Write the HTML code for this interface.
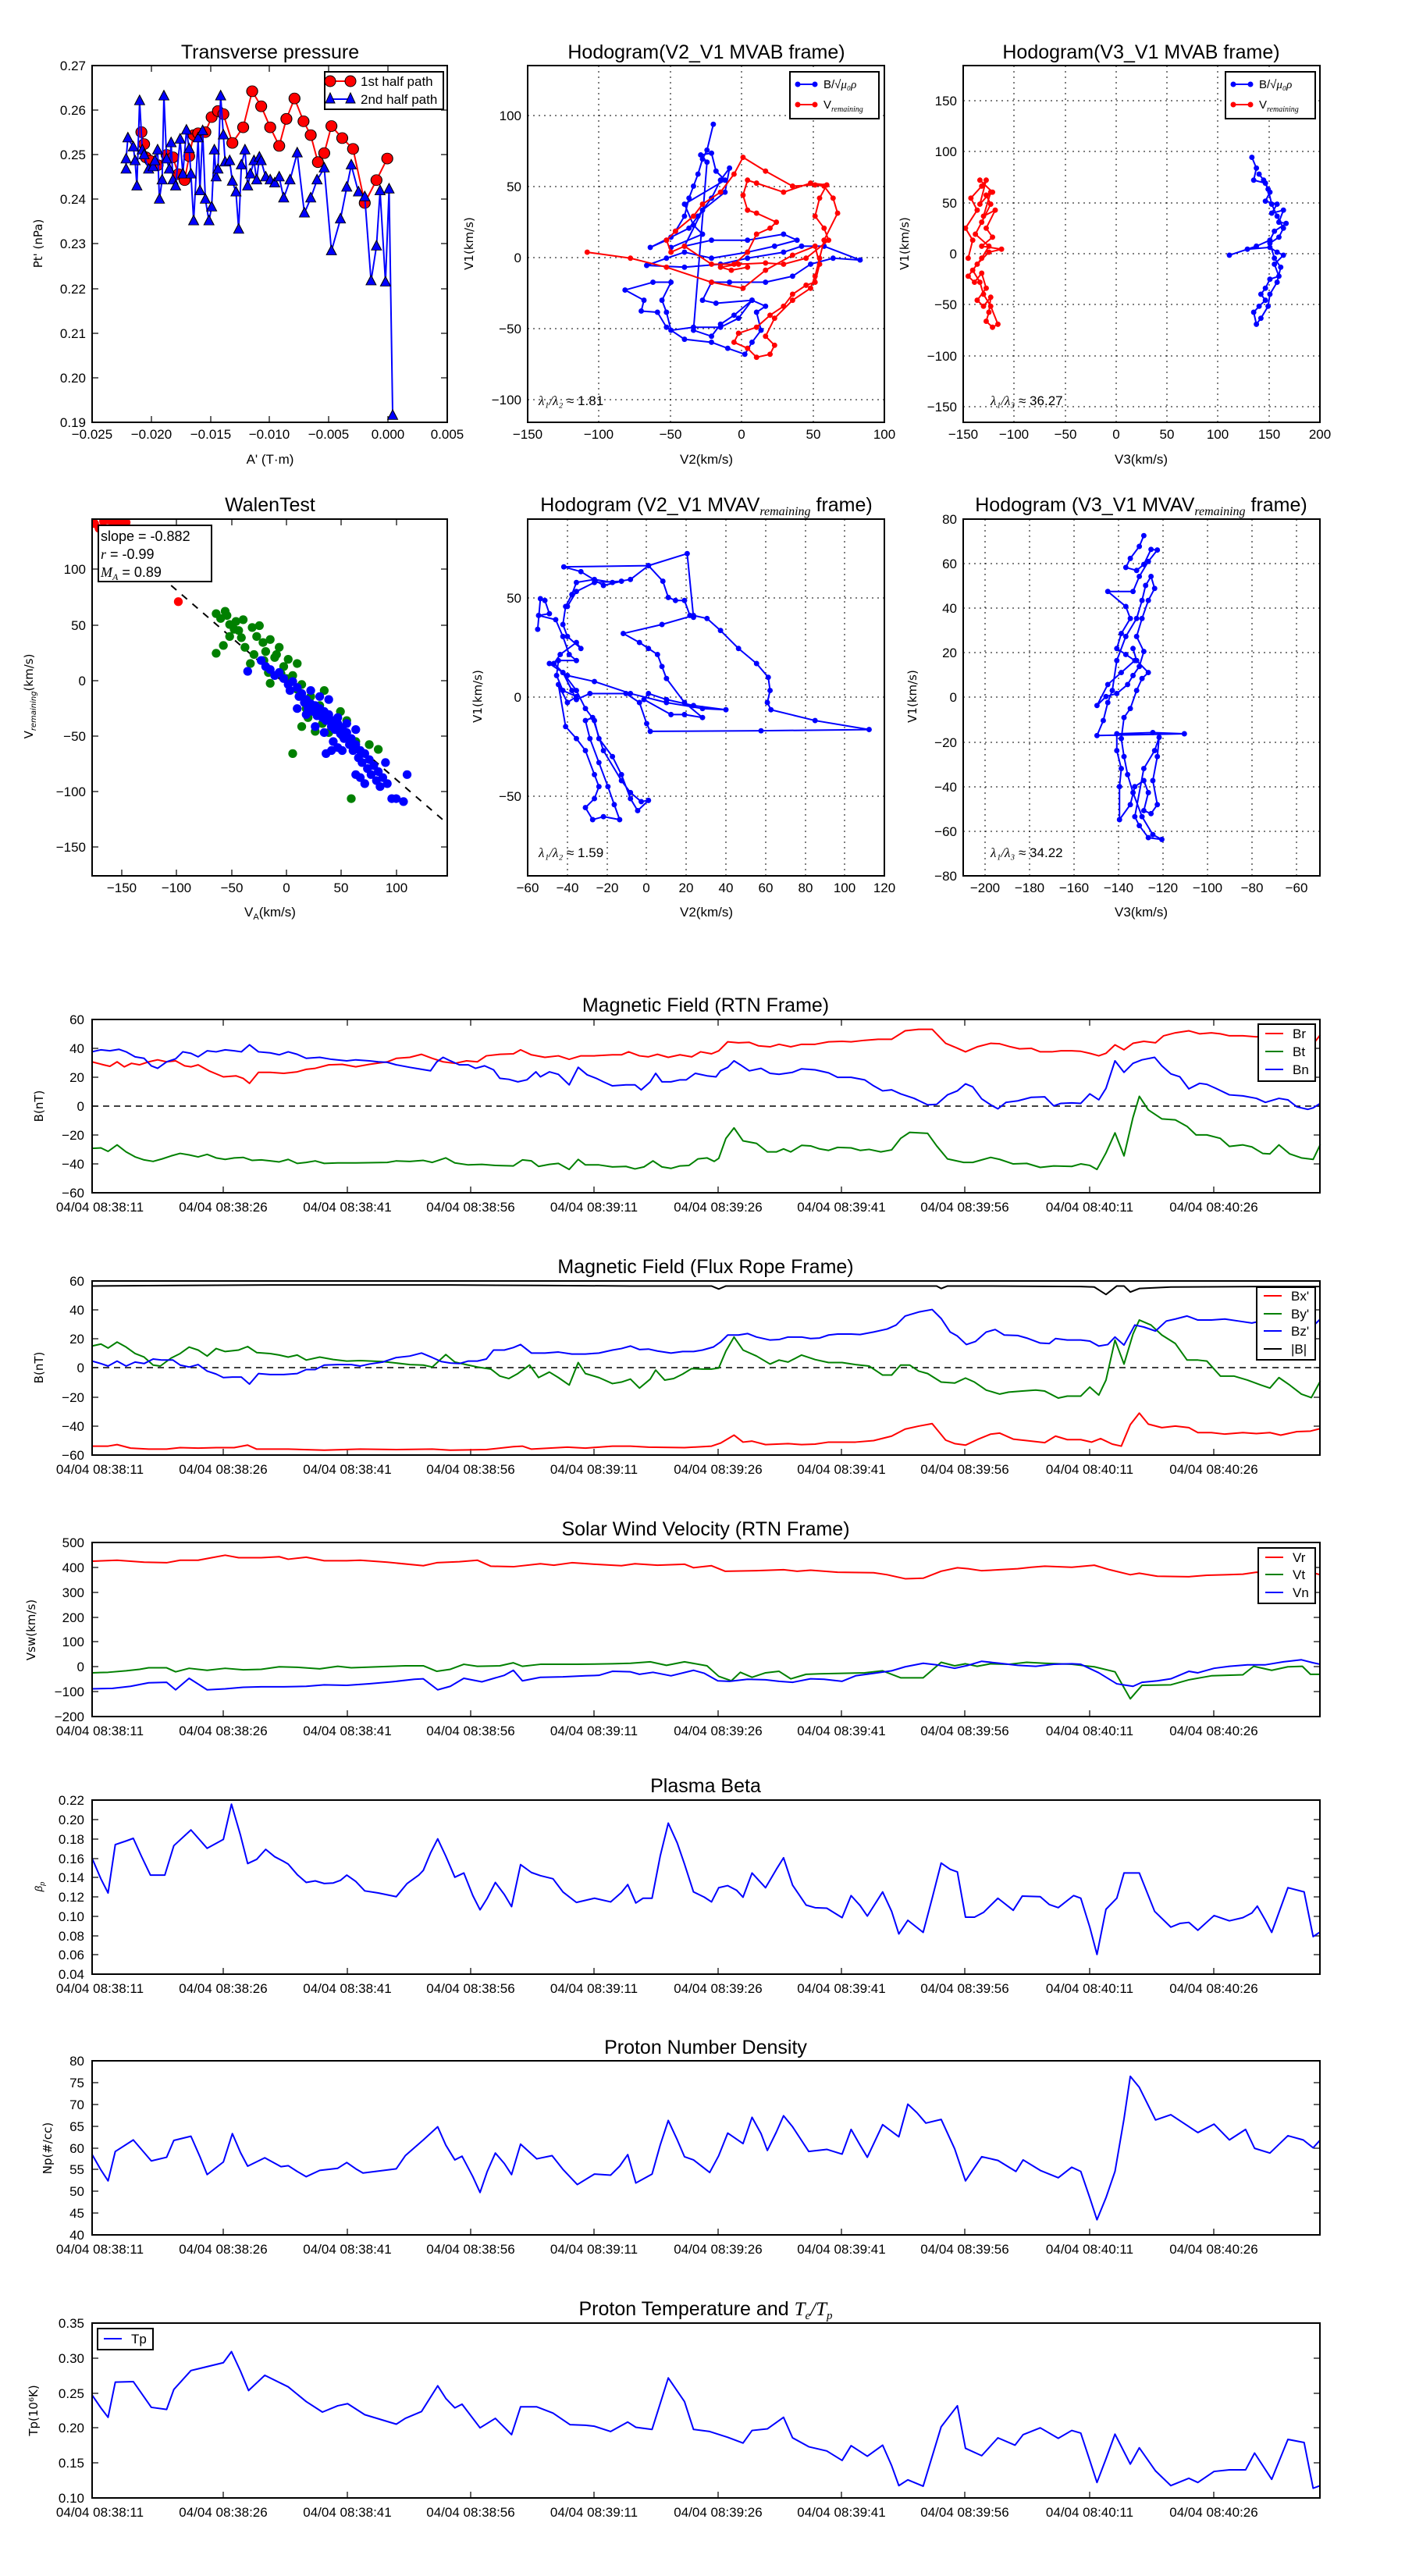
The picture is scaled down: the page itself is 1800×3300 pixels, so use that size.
<!DOCTYPE html>
<html><head><meta charset="utf-8"><style>
body{margin:0;background:#fff}
svg{display:block}
text{font-family:"Liberation Sans Narrow","Liberation Sans",sans-serif;fill:#000}
.t{font-size:17px}
.ti{font-size:25px;text-anchor:middle}
.yl{font-family:"DejaVu Sans","Liberation Sans",sans-serif;font-size:15px;text-anchor:middle}
.ax{fill:none;stroke:#000;stroke-width:2}
.tk{stroke:#000;stroke-width:1.2}
.gr{stroke:#000;stroke-width:1;stroke-dasharray:2,5}
.ln{fill:none;stroke-width:2;vector-effect:non-scaling-stroke;stroke-linejoin:round}
</style></head><body>
<svg width="1800" height="3300" viewBox="0 0 1800 3300" xmlns="http://www.w3.org/2000/svg">
<defs>
<marker id="rc" markerUnits="userSpaceOnUse" markerWidth="40" markerHeight="40" refX="0" refY="0" overflow="visible"><ellipse rx="6.1" ry="9.1" fill="#f00" stroke="#000" stroke-width="1"/></marker>
<marker id="bt" markerUnits="userSpaceOnUse" markerWidth="40" markerHeight="40" refX="0" refY="0" overflow="visible"><path d="M0,-9.5 L-5.6,6.5 L5.6,6.5Z" fill="#00f" stroke="#000" stroke-width="1"/></marker>
<marker id="bd" markerUnits="userSpaceOnUse" markerWidth="40" markerHeight="40" refX="0" refY="0" overflow="visible"><ellipse rx="3" ry="4.5" fill="#00f"/></marker>
<marker id="rd" markerUnits="userSpaceOnUse" markerWidth="40" markerHeight="40" refX="0" refY="0" overflow="visible"><ellipse rx="3" ry="4.5" fill="#f00"/></marker>
<marker id="gs" markerUnits="userSpaceOnUse" markerWidth="40" markerHeight="40" refX="0" refY="0" overflow="visible"><ellipse rx="4.9" ry="7.3" fill="#008000"/></marker>
<marker id="bs" markerUnits="userSpaceOnUse" markerWidth="40" markerHeight="40" refX="0" refY="0" overflow="visible"><ellipse rx="4.9" ry="7.3" fill="#00f"/></marker>
<marker id="rs" markerUnits="userSpaceOnUse" markerWidth="40" markerHeight="40" refX="0" refY="0" overflow="visible"><ellipse rx="4.9" ry="7.3" fill="#f00"/></marker>
<clipPath id="cA"><rect x="118" y="84" width="455" height="457"/></clipPath>
<clipPath id="cD"><rect x="118" y="665" width="455" height="457"/></clipPath>
</defs>
<rect width="1800" height="3300" fill="#fff"/>

<!-- ========== TOP ROW ========== -->
<!-- Plot A -->
<text class="ti" x="346" y="75">Transverse pressure</text>
<g class="tk">
<line x1="118" y1="541" x2="118" y2="533"/><line x1="194" y1="541" x2="194" y2="533"/><line x1="270" y1="541" x2="270" y2="533"/><line x1="345" y1="541" x2="345" y2="533"/><line x1="421" y1="541" x2="421" y2="533"/><line x1="497" y1="541" x2="497" y2="533"/>
<line x1="194" y1="84" x2="194" y2="92"/><line x1="270" y1="84" x2="270" y2="92"/><line x1="345" y1="84" x2="345" y2="92"/><line x1="421" y1="84" x2="421" y2="92"/><line x1="497" y1="84" x2="497" y2="92"/>
<line x1="118" y1="141" x2="126" y2="141"/><line x1="118" y1="198" x2="126" y2="198"/><line x1="118" y1="255" x2="126" y2="255"/><line x1="118" y1="312" x2="126" y2="312"/><line x1="118" y1="370" x2="126" y2="370"/><line x1="118" y1="427" x2="126" y2="427"/><line x1="118" y1="484" x2="126" y2="484"/>
<line x1="573" y1="141" x2="565" y2="141"/><line x1="573" y1="198" x2="565" y2="198"/><line x1="573" y1="255" x2="565" y2="255"/><line x1="573" y1="312" x2="565" y2="312"/><line x1="573" y1="370" x2="565" y2="370"/><line x1="573" y1="427" x2="565" y2="427"/><line x1="573" y1="484" x2="565" y2="484"/>
</g>
<g class="t" text-anchor="middle">
<text x="118" y="562">−0.025</text><text x="194" y="562">−0.020</text><text x="270" y="562">−0.015</text><text x="345" y="562">−0.010</text><text x="421" y="562">−0.005</text><text x="497" y="562">0.000</text><text x="573" y="562">0.005</text>
</g>
<g class="t" text-anchor="end">
<text x="110" y="90">0.27</text><text x="110" y="147">0.26</text><text x="110" y="204">0.25</text><text x="110" y="261">0.24</text><text x="110" y="318">0.23</text><text x="110" y="376">0.22</text><text x="110" y="433">0.21</text><text x="110" y="490">0.20</text><text x="110" y="547">0.19</text>
</g>
<text class="t" x="346" y="594" text-anchor="middle">A' (T·m)</text>
<text class="yl" transform="translate(54,312) rotate(-90)">Pt' (nPa)</text>
<g clip-path="url(#cA)"><g transform="scale(1.15385,0.76923)">
<polyline class="ln" stroke="#f00" marker-start="url(#rc)" marker-mid="url(#rc)" marker-end="url(#rc)" points="157,220 160,240 162,262 167,268 175,275 185,258 192,262 198,290 205,300 210,260 215,225 220,222 228,220 235,195 242,185 248,190 258,238 270,212 280,152 290,177 300,212 310,243 318,198 327,164 337,202 345,225 353,270 360,255 368,210 380,230 392,248 405,338 418,300 430,264"/>
<polyline class="ln" stroke="#00f" marker-start="url(#bt)" marker-mid="url(#bt)" marker-end="url(#bt)" points="140,282 140,265 142,230 148,245 150,268 152,310 155,168 158,250 160,258 165,282 170,278 172,268 175,250 177,332 180,300 182,160 185,265 188,282 190,238 192,300 195,310 200,232 203,290 207,217 210,248 212,290 215,368 220,230 222,318 225,218 228,332 232,368 235,345 238,250 240,295 242,282 245,160 248,225 250,270 255,268 258,302 262,320 265,382 268,275 272,250 275,310 278,290 282,268 285,300 288,262 290,268 295,295 300,300 305,305 310,295 315,330 322,300 330,255 338,355 345,330 352,300 360,280 368,418 378,365 385,312 390,275 398,320 405,328 412,468 418,410 422,318 428,470 432,315 436,692"/>
</g></g>
<rect class="ax" x="118" y="84" width="455" height="457"/>
<rect x="416" y="92" width="152" height="48" fill="#fff" stroke="#000" stroke-width="2"/>
<line x1="420" y1="104" x2="452" y2="104" stroke="#f00" stroke-width="2"/><circle cx="423" cy="104" r="7" fill="#f00" stroke="#000"/><circle cx="449" cy="104" r="7" fill="#f00" stroke="#000"/>
<line x1="420" y1="127" x2="452" y2="127" stroke="#00f" stroke-width="2"/><path d="M423,119 L417,132 L429,132Z M449,119 L443,132 L455,132Z" fill="#00f" stroke="#000"/>
<text class="t" x="462" y="110" font-size="16">1st half path</text><text class="t" x="462" y="133" font-size="16">2nd half path</text>

<!-- Plot B -->
<text class="ti" x="905" y="75">Hodogram(V2_V1 MVAB frame)</text>
<g class="gr">
<line x1="767" y1="84" x2="767" y2="541"/><line x1="859" y1="84" x2="859" y2="541"/><line x1="950" y1="84" x2="950" y2="541"/><line x1="1042" y1="84" x2="1042" y2="541"/>
<line x1="676" y1="148" x2="1133" y2="148"/><line x1="676" y1="239" x2="1133" y2="239"/><line x1="676" y1="330" x2="1133" y2="330"/><line x1="676" y1="421" x2="1133" y2="421"/><line x1="676" y1="512" x2="1133" y2="512"/>
</g>
<g class="t" text-anchor="middle">
<text x="676" y="562">−150</text><text x="767" y="562">−100</text><text x="859" y="562">−50</text><text x="950" y="562">0</text><text x="1042" y="562">50</text><text x="1133" y="562">100</text>
</g>
<g class="t" text-anchor="end">
<text x="668" y="154">100</text><text x="668" y="245">50</text><text x="668" y="336">0</text><text x="668" y="427">−50</text><text x="668" y="518">−100</text>
</g>
<text class="t" x="905" y="594" text-anchor="middle">V2(km/s)</text>
<text class="yl" transform="translate(606,312) rotate(-90)">V1(km/s)</text>
<g transform="scale(1.15385,0.76923)">
<polyline class="ln" stroke="#00f" stroke-width="1.6" marker-start="url(#bd)" marker-mid="url(#bd)" marker-end="url(#bd)" points="792,207 785,250 780,265 775,290 770,310 765,330 760,360 750,385 740,400 722,412 745,395 765,380 775,360 790,330 800,300 810,280 805,320 780,350 760,410 790,400 830,400 870,390 885,400 860,410 830,420 790,430 760,420 740,430 718,442 760,445 800,440 830,430 870,420 890,410 915,410 955,433 925,430 900,440 880,460 850,470 810,470 790,470 780,500 795,505 835,500 820,530 800,545 770,545 745,550 740,520 735,500 745,470 725,470 694,483 715,500 712,518 730,520 740,545 760,565 790,570 808,580 827,590 835,570 845,550 840,520 850,510 835,500 815,525 800,540 790,560 770,550 785,270 778,258 790,255 795,285 805,300 760,340 770,375 780,390 745,412"/>
<polyline class="ln" stroke="#f00" stroke-width="1.6" marker-start="url(#rd)" marker-mid="url(#rd)" marker-end="url(#rd)" points="652,420 700,430 740,445 790,470 825,480 850,450 880,425 905,410 910,440 905,470 895,475 880,490 870,510 855,525 840,545 820,555 815,570 830,580 840,595 855,590 860,575 850,560 860,530 880,500 900,480 905,460 910,430 915,400 930,355 925,330 915,310 905,308 880,310 850,285 825,262 815,290 800,320 780,340 770,360 750,385 740,400 745,420 760,410 790,440 815,440 830,420 840,390 855,380 862,370 840,355 830,350 825,325 830,300 840,305 870,320 900,305 918,308 910,330 905,360 915,380 920,400 895,430 870,440 850,438 820,440 800,445 812,450 830,445"/>
</g>
<rect class="ax" x="676" y="84" width="457" height="457"/>
<rect x="1012" y="92" width="114" height="60" fill="#fff" stroke="#000" stroke-width="2"/>
<line x1="1020" y1="108" x2="1046" y2="108" stroke="#00f" stroke-width="2"/><circle cx="1022" cy="108" r="3.5" fill="#00f"/><circle cx="1044" cy="108" r="3.5" fill="#00f"/>
<line x1="1020" y1="134" x2="1046" y2="134" stroke="#f00" stroke-width="2"/><circle cx="1022" cy="134" r="3.5" fill="#f00"/><circle cx="1044" cy="134" r="3.5" fill="#f00"/>
<text x="1055" y="113" font-size="15">B/√<tspan font-style="italic" font-family="Liberation Serif">μ₀ρ</tspan></text>
<text x="1055" y="139" font-size="15">V<tspan font-size="10" font-style="italic" font-family="Liberation Serif" dy="4">remaining</tspan></text>
<text x="690" y="519" font-size="17"><tspan font-style="italic" font-family="Liberation Serif">λ₁/λ₂</tspan> ≈ 1.81</text>

<!-- Plot C -->
<text class="ti" x="1462" y="75">Hodogram(V3_V1 MVAB frame)</text>
<g class="gr">
<line x1="1299" y1="84" x2="1299" y2="541"/><line x1="1365" y1="84" x2="1365" y2="541"/><line x1="1430" y1="84" x2="1430" y2="541"/><line x1="1495" y1="84" x2="1495" y2="541"/><line x1="1560" y1="84" x2="1560" y2="541"/><line x1="1626" y1="84" x2="1626" y2="541"/>
<line x1="1234" y1="129" x2="1691" y2="129"/><line x1="1234" y1="194" x2="1691" y2="194"/><line x1="1234" y1="260" x2="1691" y2="260"/><line x1="1234" y1="325" x2="1691" y2="325"/><line x1="1234" y1="390" x2="1691" y2="390"/><line x1="1234" y1="456" x2="1691" y2="456"/><line x1="1234" y1="521" x2="1691" y2="521"/>
</g>
<g class="t" text-anchor="middle">
<text x="1234" y="562">−150</text><text x="1299" y="562">−100</text><text x="1365" y="562">−50</text><text x="1430" y="562">0</text><text x="1495" y="562">50</text><text x="1560" y="562">100</text><text x="1626" y="562">150</text><text x="1691" y="562">200</text>
</g>
<g class="t" text-anchor="end">
<text x="1226" y="135">150</text><text x="1226" y="200">100</text><text x="1226" y="266">50</text><text x="1226" y="331">0</text><text x="1226" y="396">−50</text><text x="1226" y="462">−100</text><text x="1226" y="527">−150</text>
</g>
<text class="t" x="1462" y="594" text-anchor="middle">V3(km/s)</text>
<text class="yl" transform="translate(1164,312) rotate(-90)">V1(km/s)</text>
<g transform="scale(1.15385,0.76923)">
<polyline class="ln" stroke="#f00" stroke-width="1.6" marker-start="url(#rd)" marker-mid="url(#rd)" marker-end="url(#rd)" points="1075,430 1080,400 1072,380 1085,350 1078,330 1090,310 1095,300 1088,340 1100,320 1092,360 1105,350 1095,380 1102,395 1090,410 1112,415 1098,420 1085,440 1075,460 1082,470 1090,455 1095,480 1085,500 1092,510 1100,495 1098,520 1095,535 1102,545 1108,540 1100,510 1092,490 1088,470 1080,450 1090,430 1098,410 1083,390 1090,370 1100,340 1095,325 1102,320 1088,300"/>
<polyline class="ln" stroke="#00f" stroke-width="1.6" marker-start="url(#bd)" marker-mid="url(#bd)" marker-end="url(#bd)" points="1390,262 1395,280 1392,300 1405,305 1410,320 1405,335 1418,340 1412,355 1425,350 1420,370 1428,372 1415,385 1410,400 1395,410 1365,425 1385,415 1410,412 1418,420 1425,425 1415,440 1420,460 1410,465 1405,480 1400,490 1405,500 1398,510 1392,520 1395,540 1400,530 1408,510 1410,490 1418,470 1422,445 1415,430 1410,405 1420,395 1425,380 1418,360 1412,340 1408,315 1403,300 1398,290"/>
</g>
<rect class="ax" x="1234" y="84" width="457" height="457"/>
<rect x="1570" y="92" width="115" height="60" fill="#fff" stroke="#000" stroke-width="2"/>
<line x1="1578" y1="108" x2="1604" y2="108" stroke="#00f" stroke-width="2"/><circle cx="1580" cy="108" r="3.5" fill="#00f"/><circle cx="1602" cy="108" r="3.5" fill="#00f"/>
<line x1="1578" y1="134" x2="1604" y2="134" stroke="#f00" stroke-width="2"/><circle cx="1580" cy="134" r="3.5" fill="#f00"/><circle cx="1602" cy="134" r="3.5" fill="#f00"/>
<text x="1613" y="113" font-size="15">B/√<tspan font-style="italic" font-family="Liberation Serif">μ₀ρ</tspan></text>
<text x="1613" y="139" font-size="15">V<tspan font-size="10" font-style="italic" font-family="Liberation Serif" dy="4">remaining</tspan></text>
<text x="1269" y="519" font-size="17"><tspan font-style="italic" font-family="Liberation Serif">λ₁/λ₃</tspan> ≈ 36.27</text>

<!-- ========== ROW 2 ========== -->
<!-- Walen -->
<text class="ti" x="346" y="655">WalenTest</text>
<g class="tk">
<line x1="156" y1="1122" x2="156" y2="1114"/><line x1="226" y1="1122" x2="226" y2="1114"/><line x1="297" y1="1122" x2="297" y2="1114"/><line x1="367" y1="1122" x2="367" y2="1114"/><line x1="437" y1="1122" x2="437" y2="1114"/><line x1="508" y1="1122" x2="508" y2="1114"/>
<line x1="156" y1="665" x2="156" y2="673"/><line x1="226" y1="665" x2="226" y2="673"/><line x1="297" y1="665" x2="297" y2="673"/><line x1="367" y1="665" x2="367" y2="673"/><line x1="437" y1="665" x2="437" y2="673"/><line x1="508" y1="665" x2="508" y2="673"/>
<line x1="118" y1="729" x2="126" y2="729"/><line x1="118" y1="801" x2="126" y2="801"/><line x1="118" y1="872" x2="126" y2="872"/><line x1="118" y1="943" x2="126" y2="943"/><line x1="118" y1="1014" x2="126" y2="1014"/><line x1="118" y1="1085" x2="126" y2="1085"/>
<line x1="573" y1="729" x2="565" y2="729"/><line x1="573" y1="801" x2="565" y2="801"/><line x1="573" y1="872" x2="565" y2="872"/><line x1="573" y1="943" x2="565" y2="943"/><line x1="573" y1="1014" x2="565" y2="1014"/><line x1="573" y1="1085" x2="565" y2="1085"/>
</g>
<g class="t" text-anchor="middle">
<text x="156" y="1143">−150</text><text x="226" y="1143">−100</text><text x="297" y="1143">−50</text><text x="367" y="1143">0</text><text x="437" y="1143">50</text><text x="508" y="1143">100</text>
</g>
<g class="t" text-anchor="end">
<text x="110" y="735">100</text><text x="110" y="807">50</text><text x="110" y="878">0</text><text x="110" y="949">−50</text><text x="110" y="1020">−100</text><text x="110" y="1091">−150</text>
</g>
<text class="t" x="346" y="1174" text-anchor="middle">V<tspan font-size="11" dy="4">A</tspan><tspan dy="-4">(km/s)</tspan></text>
<text class="yl" transform="translate(42,892) rotate(-90)">V<tspan font-size="10" font-style="italic" dy="4">remaining</tspan><tspan dy="-4">(km/s)</tspan></text>
<g clip-path="url(#cD)"><g transform="scale(1.15385,0.76923)">
<line x1="190" y1="975" x2="497" y2="1372" stroke="#000" stroke-width="2" stroke-dasharray="9,9" vector-effect="non-scaling-stroke"/>
<polyline fill="none" stroke="none" marker-start="url(#gs)" marker-mid="url(#gs)" marker-end="url(#gs)" points="240,1022 245,1030 250,1018 255,1040 262,1035 265,1050 270,1032 255,1060 248,1075 240,1088 272,1078 280,1045 285,1060 288,1042 292,1070 295,1085 300,1065 278,1105 305,1095 310,1078 315,1110 300,1138 320,1098 325,1125 330,1148 330,1105 335,1140 340,1180 345,1160 350,1218 335,1210 355,1175 360,1150 365,1220 372,1200 378,1185 385,1200 390,1330 380,1225 395,1235 400,1250 410,1240 420,1248 325,1255 307,1090 293,1100 282,1090 268,1062 260,1048 252,1025 318,1130 342,1195 358,1205 312,1122 298,1120"/>
<polyline fill="none" stroke="none" marker-start="url(#bs)" marker-mid="url(#bs)" marker-end="url(#bs)" points="275,1118 290,1100 295,1110 300,1115 305,1125 310,1120 315,1130 320,1140 322,1150 325,1135 330,1145 332,1160 335,1155 338,1170 340,1165 342,1180 345,1172 348,1185 350,1175 352,1192 355,1180 358,1195 360,1185 362,1200 365,1190 368,1210 370,1200 372,1215 375,1205 378,1222 380,1212 382,1230 385,1220 388,1240 390,1230 392,1250 395,1240 398,1262 400,1250 402,1270 405,1255 408,1280 410,1265 412,1290 415,1275 418,1300 420,1285 422,1310 425,1295 428,1270 430,1305 435,1330 440,1330 448,1335 452,1290 400,1295 405,1305 395,1290 380,1250 370,1235 360,1220 350,1210 340,1190 330,1180 345,1150 355,1160 365,1165 375,1195 385,1205 395,1215 362,1255 368,1250 375,1245"/>
<polyline fill="none" stroke="none" marker-start="url(#rs)" marker-mid="url(#rs)" marker-end="url(#rs)" points="105,872 110,880 115,868 120,866 125,870 130,868 135,872 140,870 198,1002"/>
</g></g>
<rect class="ax" x="118" y="665" width="455" height="457"/>
<rect x="126" y="673" width="145" height="72" fill="#fff" stroke="#000" stroke-width="2"/>
<text x="129" y="693" font-size="18" font-family="DejaVu Sans,sans-serif">slope = -0.882</text>
<text x="129" y="716" font-size="18" font-family="DejaVu Sans,sans-serif"><tspan font-style="italic" font-family="Liberation Serif">r</tspan> = -0.99</text>
<text x="129" y="739" font-size="18" font-family="DejaVu Sans,sans-serif"><tspan font-style="italic" font-family="Liberation Serif">M<tspan font-size="12" dy="4">A</tspan></tspan><tspan dy="-4"> = 0.89</tspan></text>

<!-- Plot E -->
<text class="ti" x="905" y="655">Hodogram (V2_V1 MVAV<tspan font-size="16" font-style="italic" font-family="Liberation Serif" dy="5">remaining</tspan><tspan dy="-5"> frame)</tspan></text>
<g class="gr">
<line x1="727" y1="665" x2="727" y2="1122"/><line x1="778" y1="665" x2="778" y2="1122"/><line x1="828" y1="665" x2="828" y2="1122"/><line x1="879" y1="665" x2="879" y2="1122"/><line x1="930" y1="665" x2="930" y2="1122"/><line x1="981" y1="665" x2="981" y2="1122"/><line x1="1032" y1="665" x2="1032" y2="1122"/><line x1="1082" y1="665" x2="1082" y2="1122"/>
<line x1="676" y1="766" x2="1133" y2="766"/><line x1="676" y1="893" x2="1133" y2="893"/><line x1="676" y1="1020" x2="1133" y2="1020"/>
</g>
<g class="t" text-anchor="middle">
<text x="676" y="1143">−60</text><text x="727" y="1143">−40</text><text x="778" y="1143">−20</text><text x="828" y="1143">0</text><text x="879" y="1143">20</text><text x="930" y="1143">40</text><text x="981" y="1143">60</text><text x="1032" y="1143">80</text><text x="1082" y="1143">100</text><text x="1133" y="1143">120</text>
</g>
<g class="t" text-anchor="end">
<text x="668" y="772">50</text><text x="668" y="899">0</text><text x="668" y="1026">−50</text>
</g>
<text class="t" x="905" y="1174" text-anchor="middle">V2(km/s)</text>
<text class="yl" transform="translate(617,892) rotate(-90)">V1(km/s)</text>
<g transform="scale(1.15385,0.76923)">
<polyline class="ln" stroke="#00f" stroke-width="1.6" marker-start="url(#bd)" marker-mid="url(#bd)" marker-end="url(#bd)" points="597,1048 600,997 605,1000 610,1022 598,1025 617,1032 625,1060 632,1090 640,1100 620,1100 618,1125 625,1150 640,1160 630,1170 620,1140 628,1210 640,1230 650,1250 660,1290 665,1310 660,1330 650,1345 658,1365 670,1360 688,1365 682,1340 675,1310 665,1270 655,1230 650,1200 658,1195 670,1250 690,1300 700,1320 712,1335 720,1333 708,1350 700,1330 690,1290 680,1260 665,1230 660,1200 650,1180 640,1150 625,1120 610,1105 630,1125 660,1135 700,1155 740,1170 780,1180 806,1182 770,1175 740,1165 720,1155 715,1165 745,1190 760,1190 780,1195 760,1170 740,1130 735,1110 730,1090 720,1080 710,1070 692,1055 735,1040 770,1025 785,1030 800,1050 820,1080 840,1105 853,1128 855,1150 852,1170 856,1182 905,1200 965,1215 845,1217 722,1218 718,1205 710,1170 695,1155 655,1155 640,1165 635,1150 625,1120 615,1105 622,1090 640,1070 645,1080 630,1060 625,1040 628,1010 635,990 640,970 660,965 680,970 700,965 720,942 736,968 742,995 750,1000 760,1000 766,1025 770,1028 763,922 720,942 626,944 645,952 670,975 690,968 660,970 640,985 630,1010"/>
</g>
<rect class="ax" x="676" y="665" width="457" height="457"/>
<text x="690" y="1098" font-size="17"><tspan font-style="italic" font-family="Liberation Serif">λ₁/λ₂</tspan> ≈ 1.59</text>

<!-- Plot F -->
<text class="ti" x="1462" y="655">Hodogram (V3_V1 MVAV<tspan font-size="16" font-style="italic" font-family="Liberation Serif" dy="5">remaining</tspan><tspan dy="-5"> frame)</tspan></text>
<g class="gr">
<line x1="1262" y1="665" x2="1262" y2="1122"/><line x1="1319" y1="665" x2="1319" y2="1122"/><line x1="1376" y1="665" x2="1376" y2="1122"/><line x1="1433" y1="665" x2="1433" y2="1122"/><line x1="1490" y1="665" x2="1490" y2="1122"/><line x1="1547" y1="665" x2="1547" y2="1122"/><line x1="1604" y1="665" x2="1604" y2="1122"/><line x1="1661" y1="665" x2="1661" y2="1122"/>
<line x1="1234" y1="722" x2="1691" y2="722"/><line x1="1234" y1="779" x2="1691" y2="779"/><line x1="1234" y1="836" x2="1691" y2="836"/><line x1="1234" y1="893" x2="1691" y2="893"/><line x1="1234" y1="951" x2="1691" y2="951"/><line x1="1234" y1="1008" x2="1691" y2="1008"/><line x1="1234" y1="1065" x2="1691" y2="1065"/>
</g>
<g class="t" text-anchor="middle">
<text x="1262" y="1143">−200</text><text x="1319" y="1143">−180</text><text x="1376" y="1143">−160</text><text x="1433" y="1143">−140</text><text x="1490" y="1143">−120</text><text x="1547" y="1143">−100</text><text x="1604" y="1143">−80</text><text x="1661" y="1143">−60</text>
</g>
<g class="t" text-anchor="end">
<text x="1226" y="671">80</text><text x="1226" y="728">60</text><text x="1226" y="785">40</text><text x="1226" y="842">20</text><text x="1226" y="899">0</text><text x="1226" y="957">−20</text><text x="1226" y="1014">−40</text><text x="1226" y="1071">−60</text><text x="1226" y="1128">−80</text>
</g>
<text class="t" x="1462" y="1174" text-anchor="middle">V3(km/s)</text>
<text class="yl" transform="translate(1174,892) rotate(-90)">V1(km/s)</text>
<g transform="scale(1.15385,0.76923)">
<polyline class="ln" stroke="#00f" stroke-width="1.6" marker-start="url(#bd)" marker-mid="url(#bd)" marker-end="url(#bd)" points="1270,892 1265,910 1255,930 1250,945 1262,950 1270,940 1278,915 1285,916 1275,935 1265,960 1258,985 1230,985 1250,1010 1255,1030 1245,1055 1240,1080 1250,1090 1260,1100 1245,1120 1230,1140 1218,1175 1228,1160 1240,1155 1252,1140 1258,1125 1265,1110 1270,1085 1262,1060 1268,1030 1275,1000 1282,980 1278,960 1272,975 1268,1000 1262,1030 1250,1060 1240,1100 1235,1150 1230,1170 1225,1200 1218,1225 1315,1222 1280,1220 1240,1222 1240,1250 1245,1280 1243,1310 1243,1365 1255,1340 1260,1310 1270,1300 1275,1320 1270,1350 1278,1355 1285,1340 1280,1300 1285,1260 1287,1228 1282,1250 1270,1280 1260,1360 1265,1375 1275,1395 1290,1398 1280,1390 1268,1360 1258,1320 1252,1290 1248,1260 1245,1230 1248,1195 1255,1180 1262,1150 1268,1130 1275,1120 1262,1100 1258,1080"/>
</g>
<rect class="ax" x="1234" y="665" width="457" height="457"/>
<text x="1269" y="1098" font-size="17"><tspan font-style="italic" font-family="Liberation Serif">λ₁/λ₃</tspan> ≈ 34.22</text>

<!-- ========== TIME SERIES ========== -->
<!-- common x tick marks/labels per panel -->
<!-- Panel 1 -->
<text class="ti" x="904" y="1296">Magnetic Field (RTN Frame)</text>
<g class="tk">
<line x1="286" y1="1528" x2="286" y2="1520"/><line x1="445" y1="1528" x2="445" y2="1520"/><line x1="603" y1="1528" x2="603" y2="1520"/><line x1="761" y1="1528" x2="761" y2="1520"/><line x1="920" y1="1528" x2="920" y2="1520"/><line x1="1078" y1="1528" x2="1078" y2="1520"/><line x1="1236" y1="1528" x2="1236" y2="1520"/><line x1="1396" y1="1528" x2="1396" y2="1520"/><line x1="1555" y1="1528" x2="1555" y2="1520"/>
<line x1="286" y1="1306" x2="286" y2="1314"/><line x1="445" y1="1306" x2="445" y2="1314"/><line x1="603" y1="1306" x2="603" y2="1314"/><line x1="761" y1="1306" x2="761" y2="1314"/><line x1="920" y1="1306" x2="920" y2="1314"/><line x1="1078" y1="1306" x2="1078" y2="1314"/><line x1="1236" y1="1306" x2="1236" y2="1314"/><line x1="1396" y1="1306" x2="1396" y2="1314"/><line x1="1555" y1="1306" x2="1555" y2="1314"/>
<line x1="118" y1="1343" x2="126" y2="1343"/><line x1="118" y1="1380" x2="126" y2="1380"/><line x1="118" y1="1417" x2="126" y2="1417"/><line x1="118" y1="1454" x2="126" y2="1454"/><line x1="118" y1="1491" x2="126" y2="1491"/>
<line x1="1691" y1="1343" x2="1683" y2="1343"/><line x1="1691" y1="1380" x2="1683" y2="1380"/><line x1="1691" y1="1417" x2="1683" y2="1417"/><line x1="1691" y1="1454" x2="1683" y2="1454"/><line x1="1691" y1="1491" x2="1683" y2="1491"/>
</g>
<g class="t" text-anchor="end"><text x="108" y="1312">60</text><text x="108" y="1349">40</text><text x="108" y="1386">20</text><text x="108" y="1423">0</text><text x="108" y="1460">−20</text><text x="108" y="1497">−40</text><text x="108" y="1534">−60</text></g>
<g class="t" text-anchor="middle"><text x="128" y="1552">04/04 08:38:11</text><text x="286" y="1552">04/04 08:38:26</text><text x="445" y="1552">04/04 08:38:41</text><text x="603" y="1552">04/04 08:38:56</text><text x="761" y="1552">04/04 08:39:11</text><text x="920" y="1552">04/04 08:39:26</text><text x="1078" y="1552">04/04 08:39:41</text><text x="1236" y="1552">04/04 08:39:56</text><text x="1396" y="1552">04/04 08:40:11</text><text x="1555" y="1552">04/04 08:40:26</text></g>
<text class="yl" transform="translate(55,1417) rotate(-90)">B(nT)</text>
<line x1="118" y1="1417" x2="1691" y2="1417" stroke="#000" stroke-width="1.5" stroke-dasharray="8,6"/>
<g transform="translate(0,1250) scale(1.15385,0.64103)">
<polyline class="ln" stroke="#f00" points="102,172 115,178 122,181 130,172 138,182 146,175 155,178 165,172 175,168 185,172 195,170 205,180 212,182 220,178 232,190 248,202 262,200 270,205 277,215 287,193 300,193 315,195 330,192 340,187 350,185 365,178 380,177 395,182 410,177 430,172 440,165 455,163 468,157 480,165 492,172 505,175 518,170 530,172 540,160 555,157 570,156 578,148 590,158 605,163 620,160 632,167 645,160 660,160 680,158 690,158 698,152 710,160 720,162 730,157 742,163 755,158 768,162 778,152 790,156 798,150 808,132 820,134 832,133 842,140 855,142 865,137 878,142 890,137 905,137 920,132 935,131 945,132 960,129 975,127 990,127 1005,110 1020,107 1035,107 1050,135 1062,144 1072,152 1085,142 1100,135 1110,136 1122,142 1132,146 1145,145 1155,152 1168,152 1178,150 1190,150 1200,151 1210,155 1220,160 1228,155 1238,138 1248,148 1258,135 1270,131 1283,134 1292,120 1305,114 1320,110 1332,116 1345,114 1355,116 1365,120 1380,120 1395,122 1410,119 1425,120 1440,122 1452,118 1460,132 1466,118"/>
<polyline class="ln" stroke="#00f" points="102,152 112,148 122,150 132,147 140,152 150,162 160,165 168,180 175,185 185,172 195,166 203,152 212,155 220,162 230,150 240,152 250,148 260,150 268,152 277,138 287,152 300,154 310,158 320,152 330,157 340,165 355,163 368,167 385,170 395,168 410,170 420,172 430,173 440,178 455,183 465,186 478,190 485,172 492,163 500,170 510,178 520,178 528,185 538,180 548,188 555,205 565,207 575,212 585,208 595,192 600,202 610,192 620,197 632,218 642,183 652,198 662,205 670,212 680,220 695,218 705,218 712,228 722,212 728,195 735,212 745,212 755,208 762,208 772,195 785,200 795,202 800,190 808,183 815,170 822,178 832,190 845,185 855,195 865,197 880,193 890,186 905,188 920,194 930,203 945,203 960,208 970,220 980,230 990,228 1000,236 1015,245 1030,258 1040,257 1052,238 1063,230 1072,216 1080,222 1090,246 1100,258 1108,266 1117,253 1130,250 1145,243 1160,242 1170,260 1178,255 1190,254 1200,255 1210,236 1220,248 1228,225 1238,170 1248,193 1258,175 1268,168 1282,163 1290,180 1300,196 1310,202 1320,226 1332,215 1340,217 1350,225 1365,238 1380,240 1395,245 1405,253 1420,245 1430,248 1440,262 1452,267 1458,264 1466,255"/>
<polyline class="ln" stroke="#008000" points="102,345 112,344 120,351 130,338 140,352 150,362 160,368 170,371 180,366 190,360 200,355 210,358 220,362 230,357 240,364 250,367 260,364 270,363 280,369 290,368 300,370 310,372 320,367 330,375 340,373 350,370 360,375 375,374 395,374 430,373 440,370 455,371 470,369 480,373 495,364 505,374 520,378 535,377 550,379 570,380 580,368 590,370 598,381 610,377 620,375 632,387 642,367 650,378 665,378 680,382 695,381 705,386 715,382 725,370 735,382 745,385 755,380 765,379 775,366 785,364 793,371 798,365 806,325 815,304 825,330 840,335 852,352 862,352 870,346 878,352 890,339 900,340 910,346 920,349 930,343 945,344 955,349 965,347 978,352 990,348 1000,325 1010,313 1030,315 1040,340 1052,366 1070,373 1080,373 1090,368 1100,363 1110,367 1125,376 1140,375 1155,383 1170,380 1190,381 1200,376 1210,379 1218,387 1228,354 1238,314 1248,360 1258,283 1265,241 1275,268 1290,286 1305,288 1318,301 1328,318 1340,318 1355,325 1365,341 1380,338 1390,342 1402,355 1410,356 1420,338 1432,356 1445,364 1458,367 1466,337"/>
</g>
<rect class="ax" x="118" y="1306" width="1573" height="222"/>
<rect x="1612" y="1312" width="73" height="73" fill="#fff" stroke="#000" stroke-width="2"/>
<line x1="1621" y1="1324" x2="1644" y2="1324" stroke="#f00" stroke-width="2"/><line x1="1621" y1="1347" x2="1644" y2="1347" stroke="#008000" stroke-width="2"/><line x1="1621" y1="1370" x2="1644" y2="1370" stroke="#00f" stroke-width="2"/>
<text class="t" x="1656" y="1330" font-size="15">Br</text><text class="t" x="1656" y="1353" font-size="15">Bt</text><text class="t" x="1656" y="1376" font-size="15">Bn</text>

<!-- Panel 2 -->
<text class="ti" x="904" y="1631">Magnetic Field (Flux Rope Frame)</text>
<g class="tk">
<line x1="286" y1="1864" x2="286" y2="1856"/><line x1="445" y1="1864" x2="445" y2="1856"/><line x1="603" y1="1864" x2="603" y2="1856"/><line x1="761" y1="1864" x2="761" y2="1856"/><line x1="920" y1="1864" x2="920" y2="1856"/><line x1="1078" y1="1864" x2="1078" y2="1856"/><line x1="1236" y1="1864" x2="1236" y2="1856"/><line x1="1396" y1="1864" x2="1396" y2="1856"/><line x1="1555" y1="1864" x2="1555" y2="1856"/>
<line x1="118" y1="1678" x2="126" y2="1678"/><line x1="118" y1="1715" x2="126" y2="1715"/><line x1="118" y1="1752" x2="126" y2="1752"/><line x1="118" y1="1790" x2="126" y2="1790"/><line x1="118" y1="1827" x2="126" y2="1827"/>
<line x1="1691" y1="1678" x2="1683" y2="1678"/><line x1="1691" y1="1715" x2="1683" y2="1715"/><line x1="1691" y1="1752" x2="1683" y2="1752"/><line x1="1691" y1="1790" x2="1683" y2="1790"/><line x1="1691" y1="1827" x2="1683" y2="1827"/>
</g>
<g class="t" text-anchor="end"><text x="108" y="1647">60</text><text x="108" y="1684">40</text><text x="108" y="1721">20</text><text x="108" y="1758">0</text><text x="108" y="1796">−20</text><text x="108" y="1833">−40</text><text x="108" y="1870">−60</text></g>
<g class="t" text-anchor="middle"><text x="128" y="1888">04/04 08:38:11</text><text x="286" y="1888">04/04 08:38:26</text><text x="445" y="1888">04/04 08:38:41</text><text x="603" y="1888">04/04 08:38:56</text><text x="761" y="1888">04/04 08:39:11</text><text x="920" y="1888">04/04 08:39:26</text><text x="1078" y="1888">04/04 08:39:41</text><text x="1236" y="1888">04/04 08:39:56</text><text x="1396" y="1888">04/04 08:40:11</text><text x="1555" y="1888">04/04 08:40:26</text></g>
<text class="yl" transform="translate(55,1752) rotate(-90)">B(nT)</text>
<line x1="118" y1="1752" x2="1691" y2="1752" stroke="#000" stroke-width="1.5" stroke-dasharray="8,6"/>
<g transform="translate(0,1250) scale(1.15385,0.64103)">
<polyline class="ln" stroke="#000" points="102,620 200,619 300,618 400,618 500,618 600,619 700,620 790,620 798,626 806,620 900,620 1000,620 1040,620 1045,625 1052,620 1100,620 1200,621 1215,622 1228,637 1240,620 1248,620 1255,632 1265,625 1300,622 1400,621 1466,621"/>
<polyline class="ln" stroke="#f00" points="102,940 120,940 130,937 145,944 165,946 185,946 200,943 220,944 240,943 260,943 275,938 285,946 320,946 360,948 400,946 440,947 480,946 500,948 540,947 570,941 580,940 590,946 610,944 630,942 650,944 680,940 700,940 720,942 760,943 790,940 800,934 815,918 825,932 835,930 850,937 875,935 890,937 905,936 920,932 950,932 970,929 990,920 1005,906 1020,900 1035,895 1050,928 1060,935 1072,938 1085,927 1100,916 1110,914 1125,926 1140,929 1160,933 1172,920 1185,927 1200,927 1212,932 1222,925 1235,936 1245,940 1255,897 1265,874 1275,896 1290,903 1305,900 1320,903 1330,913 1345,913 1360,916 1380,913 1395,915 1410,913 1422,918 1440,911 1455,910 1466,905"/>
<polyline class="ln" stroke="#008000" points="102,740 112,736 120,744 130,732 140,742 150,755 160,762 170,778 178,780 190,764 200,755 210,742 220,748 230,760 240,745 250,751 265,748 275,741 285,753 300,755 310,758 320,762 330,758 340,768 355,762 370,767 385,770 400,769 425,771 440,774 455,777 470,778 480,782 495,757 505,772 520,778 530,782 545,786 555,800 565,805 575,795 588,778 598,803 610,792 620,803 632,818 642,773 650,795 665,803 680,815 690,812 700,806 710,824 722,806 728,788 738,808 748,805 758,796 768,785 780,786 790,786 798,784 806,750 815,722 825,748 840,760 855,776 865,768 875,772 890,758 905,767 920,773 935,773 950,777 965,780 980,798 990,798 1000,778 1010,778 1020,790 1030,795 1045,812 1060,814 1072,804 1082,812 1095,828 1110,836 1120,832 1135,830 1150,828 1160,830 1175,844 1185,840 1200,840 1210,822 1220,838 1228,808 1238,728 1248,776 1258,716 1265,688 1278,698 1290,718 1305,735 1318,768 1330,768 1340,770 1355,800 1370,800 1385,808 1400,818 1410,824 1420,803 1432,818 1445,836 1456,843 1466,810"/>
<polyline class="ln" stroke="#00f" points="102,770 112,775 120,780 130,770 140,780 150,772 160,775 170,766 180,768 192,768 200,778 210,782 220,777 230,790 240,796 248,803 258,802 268,802 277,816 287,795 300,797 315,797 330,795 340,787 350,787 360,778 375,777 390,777 400,780 410,776 425,772 440,763 455,760 468,754 480,763 490,771 500,774 510,775 520,770 530,770 540,766 548,748 560,748 570,743 578,737 590,754 605,754 620,752 635,756 650,756 665,754 680,748 690,745 700,740 710,747 720,746 730,750 745,754 758,751 770,751 780,748 792,742 800,732 808,718 820,718 830,715 840,722 855,728 865,727 875,722 890,722 900,725 910,724 920,718 930,716 945,716 955,717 970,712 985,706 995,698 1005,680 1020,672 1035,667 1045,685 1055,712 1063,720 1073,737 1083,731 1095,712 1105,707 1115,718 1130,719 1140,724 1155,734 1165,735 1172,725 1185,728 1200,728 1210,730 1220,740 1230,737 1238,722 1248,738 1260,698 1270,702 1283,710 1295,690 1305,686 1318,680 1330,688 1345,688 1360,686 1375,690 1390,694 1400,690 1420,685 1440,690 1458,700 1466,686"/>
</g>
<rect class="ax" x="118" y="1641" width="1573" height="223"/>
<rect x="1610" y="1649" width="75" height="93" fill="#fff" stroke="#000" stroke-width="2"/>
<line x1="1619" y1="1660" x2="1642" y2="1660" stroke="#f00" stroke-width="2"/><line x1="1619" y1="1683" x2="1642" y2="1683" stroke="#008000" stroke-width="2"/><line x1="1619" y1="1705" x2="1642" y2="1705" stroke="#00f" stroke-width="2"/><line x1="1619" y1="1728" x2="1642" y2="1728" stroke="#000" stroke-width="2"/>
<text class="t" x="1654" y="1666" font-size="15">Bx'</text><text class="t" x="1654" y="1689" font-size="15">By'</text><text class="t" x="1654" y="1711" font-size="15">Bz'</text><text class="t" x="1654" y="1734" font-size="15">|B|</text>

<!-- Panel 3 -->
<text class="ti" x="904" y="1967">Solar Wind Velocity (RTN Frame)</text>
<g class="tk">
<line x1="286" y1="2199" x2="286" y2="2191"/><line x1="445" y1="2199" x2="445" y2="2191"/><line x1="603" y1="2199" x2="603" y2="2191"/><line x1="761" y1="2199" x2="761" y2="2191"/><line x1="920" y1="2199" x2="920" y2="2191"/><line x1="1078" y1="2199" x2="1078" y2="2191"/><line x1="1236" y1="2199" x2="1236" y2="2191"/><line x1="1396" y1="2199" x2="1396" y2="2191"/><line x1="1555" y1="2199" x2="1555" y2="2191"/>
<line x1="118" y1="2008" x2="126" y2="2008"/><line x1="118" y1="2040" x2="126" y2="2040"/><line x1="118" y1="2072" x2="126" y2="2072"/><line x1="118" y1="2103" x2="126" y2="2103"/><line x1="118" y1="2135" x2="126" y2="2135"/><line x1="118" y1="2167" x2="126" y2="2167"/>
<line x1="1691" y1="2008" x2="1683" y2="2008"/><line x1="1691" y1="2040" x2="1683" y2="2040"/><line x1="1691" y1="2072" x2="1683" y2="2072"/><line x1="1691" y1="2103" x2="1683" y2="2103"/><line x1="1691" y1="2135" x2="1683" y2="2135"/><line x1="1691" y1="2167" x2="1683" y2="2167"/>
</g>
<g class="t" text-anchor="end"><text x="108" y="1982">500</text><text x="108" y="2014">400</text><text x="108" y="2046">300</text><text x="108" y="2078">200</text><text x="108" y="2109">100</text><text x="108" y="2141">0</text><text x="108" y="2173">−100</text><text x="108" y="2205">−200</text></g>
<g class="t" text-anchor="middle"><text x="128" y="2223">04/04 08:38:11</text><text x="286" y="2223">04/04 08:38:26</text><text x="445" y="2223">04/04 08:38:41</text><text x="603" y="2223">04/04 08:38:56</text><text x="761" y="2223">04/04 08:39:11</text><text x="920" y="2223">04/04 08:39:26</text><text x="1078" y="2223">04/04 08:39:41</text><text x="1236" y="2223">04/04 08:39:56</text><text x="1396" y="2223">04/04 08:40:11</text><text x="1555" y="2223">04/04 08:40:26</text></g>
<text class="yl" transform="translate(45,2088) rotate(-90)">Vsw(km/s)</text>
<g transform="translate(0,1250) scale(1.15385,0.64103)">
<polyline class="ln" stroke="#f00" points="102,1170 130,1168 160,1172 185,1173 200,1168 220,1168 235,1163 250,1158 265,1163 290,1163 310,1161 320,1166 340,1162 360,1169 385,1169 400,1168 430,1172 470,1179 485,1173 510,1171 530,1168 545,1180 570,1181 600,1175 615,1178 635,1173 660,1176 690,1179 705,1175 730,1178 760,1176 770,1183 790,1179 805,1190 840,1189 870,1187 885,1190 900,1188 930,1192 970,1193 985,1197 1005,1205 1025,1204 1045,1190 1063,1183 1075,1185 1090,1189 1110,1187 1130,1185 1145,1182 1160,1180 1190,1182 1215,1178 1232,1187 1255,1197 1265,1194 1285,1200 1320,1201 1340,1198 1360,1197 1380,1196 1395,1192 1420,1193 1440,1194 1455,1192 1466,1197"/>
<polyline class="ln" stroke="#008000" points="102,1393 120,1392 140,1389 155,1386 165,1383 185,1383 195,1391 210,1384 230,1388 250,1384 270,1387 290,1386 310,1381 330,1382 355,1385 375,1380 390,1383 420,1381 450,1379 470,1379 485,1390 500,1386 515,1376 530,1380 555,1379 570,1373 580,1380 600,1376 640,1376 680,1375 700,1374 722,1371 740,1378 760,1371 785,1379 798,1400 812,1409 822,1392 835,1402 850,1393 865,1390 878,1405 895,1396 910,1395 935,1394 960,1393 980,1389 1000,1403 1025,1403 1045,1372 1060,1379 1072,1375 1085,1380 1100,1375 1120,1376 1140,1372 1160,1374 1190,1376 1215,1381 1238,1391 1255,1445 1268,1418 1300,1417 1320,1407 1345,1399 1380,1397 1392,1380 1412,1388 1430,1381 1446,1380 1455,1396 1466,1396"/>
<polyline class="ln" stroke="#00f" points="102,1425 125,1424 145,1420 165,1413 185,1412 195,1427 210,1404 230,1427 250,1425 270,1422 290,1421 315,1421 340,1420 360,1417 385,1418 410,1415 435,1411 460,1406 470,1405 486,1427 500,1420 515,1404 535,1411 560,1398 570,1388 580,1409 600,1402 625,1401 650,1399 665,1398 680,1390 700,1391 710,1396 725,1392 745,1399 770,1388 782,1394 797,1409 810,1410 830,1406 850,1407 865,1410 880,1412 900,1405 915,1406 935,1410 950,1399 970,1394 990,1389 1005,1381 1025,1374 1040,1377 1060,1384 1075,1378 1090,1370 1110,1374 1130,1378 1150,1380 1170,1376 1190,1375 1200,1376 1220,1393 1240,1415 1258,1420 1268,1412 1285,1409 1300,1405 1320,1390 1330,1393 1348,1384 1365,1380 1385,1377 1405,1377 1425,1371 1445,1367 1458,1373 1466,1376"/>
</g>
<rect class="ax" x="118" y="1976" width="1573" height="223"/>
<rect x="1612" y="1983" width="73" height="71" fill="#fff" stroke="#000" stroke-width="2"/>
<line x1="1621" y1="1995" x2="1644" y2="1995" stroke="#f00" stroke-width="2"/><line x1="1621" y1="2017" x2="1644" y2="2017" stroke="#008000" stroke-width="2"/><line x1="1621" y1="2040" x2="1644" y2="2040" stroke="#00f" stroke-width="2"/>
<text class="t" x="1656" y="2001" font-size="15">Vr</text><text class="t" x="1656" y="2023" font-size="15">Vt</text><text class="t" x="1656" y="2046" font-size="15">Vn</text>

<!-- Panel 4 Beta -->
<text class="ti" x="904" y="2296">Plasma Beta</text>
<g class="tk">
<line x1="286" y1="2529" x2="286" y2="2521"/><line x1="445" y1="2529" x2="445" y2="2521"/><line x1="603" y1="2529" x2="603" y2="2521"/><line x1="761" y1="2529" x2="761" y2="2521"/><line x1="920" y1="2529" x2="920" y2="2521"/><line x1="1078" y1="2529" x2="1078" y2="2521"/><line x1="1236" y1="2529" x2="1236" y2="2521"/><line x1="1396" y1="2529" x2="1396" y2="2521"/><line x1="1555" y1="2529" x2="1555" y2="2521"/>
<line x1="118" y1="2331" x2="126" y2="2331"/><line x1="118" y1="2356" x2="126" y2="2356"/><line x1="118" y1="2381" x2="126" y2="2381"/><line x1="118" y1="2405" x2="126" y2="2405"/><line x1="118" y1="2430" x2="126" y2="2430"/><line x1="118" y1="2455" x2="126" y2="2455"/><line x1="118" y1="2480" x2="126" y2="2480"/><line x1="118" y1="2504" x2="126" y2="2504"/>
<line x1="1691" y1="2331" x2="1683" y2="2331"/><line x1="1691" y1="2356" x2="1683" y2="2356"/><line x1="1691" y1="2381" x2="1683" y2="2381"/><line x1="1691" y1="2405" x2="1683" y2="2405"/><line x1="1691" y1="2430" x2="1683" y2="2430"/><line x1="1691" y1="2455" x2="1683" y2="2455"/><line x1="1691" y1="2480" x2="1683" y2="2480"/><line x1="1691" y1="2504" x2="1683" y2="2504"/>
</g>
<g class="t" text-anchor="end"><text x="108" y="2312">0.22</text><text x="108" y="2337">0.20</text><text x="108" y="2362">0.18</text><text x="108" y="2387">0.16</text><text x="108" y="2411">0.14</text><text x="108" y="2436">0.12</text><text x="108" y="2461">0.10</text><text x="108" y="2486">0.08</text><text x="108" y="2510">0.06</text><text x="108" y="2535">0.04</text></g>
<g class="t" text-anchor="middle"><text x="128" y="2553">04/04 08:38:11</text><text x="286" y="2553">04/04 08:38:26</text><text x="445" y="2553">04/04 08:38:41</text><text x="603" y="2553">04/04 08:38:56</text><text x="761" y="2553">04/04 08:39:11</text><text x="920" y="2553">04/04 08:39:26</text><text x="1078" y="2553">04/04 08:39:41</text><text x="1236" y="2553">04/04 08:39:56</text><text x="1396" y="2553">04/04 08:40:11</text><text x="1555" y="2553">04/04 08:40:26</text></g>
<text x="54" y="2417" font-size="13" font-style="italic" font-family="Liberation Serif" transform="rotate(-90,54,2417)" text-anchor="middle">β<tspan font-size="9" dy="3">p</tspan></text>
<g transform="translate(0,2250) scale(1.15385,0.67308)">
<polyline class="ln" stroke="#00f" points="102,193 112,233 120,260 128,168 140,161 148,156 157,190 167,226 183,226 193,170 212,140 230,175 248,158 257,91 267,150 275,204 285,196 295,177 305,191 315,200 320,205 330,225 340,240 350,237 360,242 370,241 378,236 385,226 395,238 405,256 420,260 440,267 452,242 465,226 470,217 478,184 486,157 495,190 505,230 515,222 525,265 533,292 541,270 550,240 560,263 568,286 578,206 590,221 600,227 614,233 625,258 640,278 660,270 678,277 690,259 697,244 706,279 714,270 724,270 733,190 742,127 752,165 760,205 770,258 782,268 790,277 798,250 808,246 818,255 825,268 835,222 850,250 862,215 870,193 880,245 895,283 905,288 918,289 935,307 945,265 955,284 963,304 980,258 990,295 998,338 1008,312 1025,335 1035,270 1045,203 1055,215 1063,220 1072,306 1082,306 1092,297 1108,270 1125,293 1135,266 1155,267 1165,282 1175,288 1192,265 1200,270 1210,325 1218,377 1228,291 1240,270 1248,222 1265,222 1282,295 1300,325 1310,318 1320,316 1330,331 1348,303 1365,313 1380,307 1390,298 1396,285 1405,312 1412,335 1430,250 1448,258 1458,343 1466,334"/>
</g>
<rect class="ax" x="118" y="2306" width="1573" height="223"/>

<!-- Panel 5 Density -->
<text class="ti" x="904" y="2631">Proton Number Density</text>
<g class="tk">
<line x1="286" y1="2863" x2="286" y2="2855"/><line x1="445" y1="2863" x2="445" y2="2855"/><line x1="603" y1="2863" x2="603" y2="2855"/><line x1="761" y1="2863" x2="761" y2="2855"/><line x1="920" y1="2863" x2="920" y2="2855"/><line x1="1078" y1="2863" x2="1078" y2="2855"/><line x1="1236" y1="2863" x2="1236" y2="2855"/><line x1="1396" y1="2863" x2="1396" y2="2855"/><line x1="1555" y1="2863" x2="1555" y2="2855"/>
<line x1="118" y1="2668" x2="126" y2="2668"/><line x1="118" y1="2696" x2="126" y2="2696"/><line x1="118" y1="2724" x2="126" y2="2724"/><line x1="118" y1="2752" x2="126" y2="2752"/><line x1="118" y1="2779" x2="126" y2="2779"/><line x1="118" y1="2807" x2="126" y2="2807"/><line x1="118" y1="2835" x2="126" y2="2835"/>
<line x1="1691" y1="2668" x2="1683" y2="2668"/><line x1="1691" y1="2696" x2="1683" y2="2696"/><line x1="1691" y1="2724" x2="1683" y2="2724"/><line x1="1691" y1="2752" x2="1683" y2="2752"/><line x1="1691" y1="2779" x2="1683" y2="2779"/><line x1="1691" y1="2807" x2="1683" y2="2807"/><line x1="1691" y1="2835" x2="1683" y2="2835"/>
</g>
<g class="t" text-anchor="end"><text x="108" y="2646">80</text><text x="108" y="2674">75</text><text x="108" y="2702">70</text><text x="108" y="2730">65</text><text x="108" y="2758">60</text><text x="108" y="2785">55</text><text x="108" y="2813">50</text><text x="108" y="2841">45</text><text x="108" y="2869">40</text></g>
<g class="t" text-anchor="middle"><text x="128" y="2887">04/04 08:38:11</text><text x="286" y="2887">04/04 08:38:26</text><text x="445" y="2887">04/04 08:38:41</text><text x="603" y="2887">04/04 08:38:56</text><text x="761" y="2887">04/04 08:39:11</text><text x="920" y="2887">04/04 08:39:26</text><text x="1078" y="2887">04/04 08:39:41</text><text x="1236" y="2887">04/04 08:39:56</text><text x="1396" y="2887">04/04 08:40:11</text><text x="1555" y="2887">04/04 08:40:26</text></g>
<text class="yl" transform="translate(66,2752) rotate(-90)">Np(#/cc)</text>
<g transform="translate(0,2250) scale(1.15385,0.67308)">
<polyline class="ln" stroke="#00f" points="102,757 112,787 120,808 128,752 148,730 168,770 185,763 193,731 212,723 222,762 230,796 248,772 258,718 267,754 275,780 294,764 312,781 320,779 330,790 340,800 355,788 375,784 385,773 395,785 403,793 440,785 450,760 470,730 486,705 495,740 505,768 513,761 525,800 533,830 541,790 550,755 560,775 568,796 578,738 596,766 613,760 625,786 641,815 660,795 678,797 688,780 697,758 706,812 724,795 733,740 742,693 752,730 760,762 770,768 788,792 798,760 808,717 825,737 835,687 845,718 852,750 862,715 870,684 880,705 898,752 918,748 935,757 945,710 955,740 963,763 980,701 998,724 1008,662 1018,678 1028,698 1045,691 1060,747 1072,808 1090,762 1108,769 1128,790 1136,768 1155,788 1175,802 1190,782 1200,790 1210,840 1218,882 1228,840 1238,790 1248,690 1255,609 1265,630 1283,692 1300,682 1330,716 1348,700 1365,730 1383,710 1393,746 1410,755 1430,722 1447,730 1458,745 1466,730"/>
</g>
<rect class="ax" x="118" y="2640" width="1573" height="223"/>

<!-- Panel 6 Tp -->
<text class="ti" x="904" y="2966">Proton Temperature and <tspan font-style="italic" font-family="Liberation Serif">T<tspan font-size="15" dy="5">e</tspan><tspan dy="-5">/T</tspan><tspan font-size="15" dy="5">p</tspan></tspan></text>
<g class="tk">
<line x1="286" y1="3200" x2="286" y2="3192"/><line x1="445" y1="3200" x2="445" y2="3192"/><line x1="603" y1="3200" x2="603" y2="3192"/><line x1="761" y1="3200" x2="761" y2="3192"/><line x1="920" y1="3200" x2="920" y2="3192"/><line x1="1078" y1="3200" x2="1078" y2="3192"/><line x1="1236" y1="3200" x2="1236" y2="3192"/><line x1="1396" y1="3200" x2="1396" y2="3192"/><line x1="1555" y1="3200" x2="1555" y2="3192"/>
<line x1="118" y1="3021" x2="126" y2="3021"/><line x1="118" y1="3066" x2="126" y2="3066"/><line x1="118" y1="3110" x2="126" y2="3110"/><line x1="118" y1="3155" x2="126" y2="3155"/>
<line x1="1691" y1="3021" x2="1683" y2="3021"/><line x1="1691" y1="3066" x2="1683" y2="3066"/><line x1="1691" y1="3110" x2="1683" y2="3110"/><line x1="1691" y1="3155" x2="1683" y2="3155"/>
</g>
<g class="t" text-anchor="end"><text x="108" y="2982">0.35</text><text x="108" y="3027">0.30</text><text x="108" y="3072">0.25</text><text x="108" y="3116">0.20</text><text x="108" y="3161">0.15</text><text x="108" y="3206">0.10</text></g>
<g class="t" text-anchor="middle"><text x="128" y="3224">04/04 08:38:11</text><text x="286" y="3224">04/04 08:38:26</text><text x="445" y="3224">04/04 08:38:41</text><text x="603" y="3224">04/04 08:38:56</text><text x="761" y="3224">04/04 08:39:11</text><text x="920" y="3224">04/04 08:39:26</text><text x="1078" y="3224">04/04 08:39:41</text><text x="1236" y="3224">04/04 08:39:56</text><text x="1396" y="3224">04/04 08:40:11</text><text x="1555" y="3224">04/04 08:40:26</text></g>
<text class="yl" transform="translate(48,3088) rotate(-90)">Tp(10⁶K)</text>
<g transform="translate(0,2250) scale(1.15385,0.67308)">
<polyline class="ln" stroke="#00f" points="102,1215 112,1240 120,1258 128,1191 148,1190 168,1239 185,1243 193,1205 212,1169 248,1154 257,1133 267,1170 276,1207 294,1178 320,1200 340,1228 358,1248 375,1236 386,1232 405,1253 440,1271 450,1260 468,1247 486,1198 495,1222 505,1240 513,1233 533,1278 550,1260 568,1291 578,1238 596,1238 614,1250 633,1272 650,1273 660,1275 678,1285 697,1267 706,1277 724,1281 742,1183 760,1228 770,1281 788,1285 808,1296 825,1307 835,1283 852,1280 870,1258 880,1297 898,1314 918,1322 935,1340 945,1312 963,1332 980,1311 990,1350 998,1388 1008,1377 1025,1389 1045,1276 1063,1236 1072,1317 1090,1331 1108,1297 1127,1311 1136,1291 1155,1278 1175,1298 1190,1283 1200,1288 1210,1340 1218,1382 1228,1337 1238,1290 1255,1347 1265,1316 1283,1360 1300,1388 1320,1374 1330,1382 1348,1361 1365,1358 1383,1358 1393,1326 1412,1376 1430,1300 1448,1306 1458,1393 1466,1388"/>
</g>
<rect class="ax" x="118" y="2976" width="1573" height="224"/>
<rect x="125" y="2983" width="71" height="27" fill="#fff" stroke="#000" stroke-width="2"/>
<line x1="133" y1="2996" x2="156" y2="2996" stroke="#00f" stroke-width="2"/>
<text class="t" x="168" y="3002" font-size="15">Tp</text>
</svg>
</body></html>
